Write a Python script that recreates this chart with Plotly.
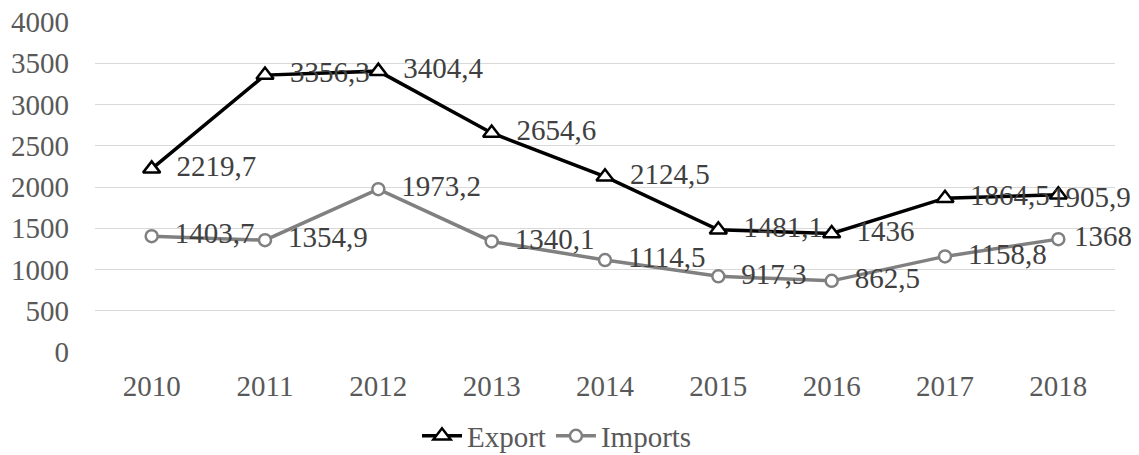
import plotly.graph_objects as go

years = ["2010", "2011", "2012", "2013", "2014", "2015", "2016", "2017", "2018"]
export_vals = [2219.7, 3356.3, 3404.4, 2654.6, 2124.5, 1481.1, 1436, 1864.5, 1905.9]
import_vals = [1403.7, 1354.9, 1973.2, 1340.1, 1114.5, 917.3, 862.5, 1158.8, 1368]
export_labels = ["2219,7", "3356,3", "3404,4", "2654,6", "2124,5", "1481,1", "1436", "1864,5", "1905,9"]
import_labels = ["1403,7", "1354,9", "1973,2", "1340,1", "1114,5", "917,3", "862,5", "1158,8", "1368"]

FONT = "Liberation Serif"
TXT = "#404040"
TICK = "#595959"
FS = 29
PAD = "\u00a0\u00a0"
n = len(years)

fig = go.Figure()
# last export label is placed separately (pulled left to fit, as in the original)
fig.add_trace(go.Scatter(
    x=years, y=export_vals, name="Export", mode="lines+markers+text",
    text=export_labels[:-1] + [""], texttemplate=PAD + "%{text}",
    textposition="middle right", cliponaxis=False,
    textfont=dict(family=FONT, size=FS, color=TXT),
    line=dict(color="black", width=3.5),
    marker=dict(symbol="triangle-up", size=15, color="white",
                line=dict(color="black", width=2.5)),
))
fig.add_trace(go.Scatter(
    x=years, y=import_vals, name="Imports", mode="lines+markers+text",
    text=import_labels, texttemplate=[PAD + "%{text}"] * (n - 1) + ["\u00a0%{text}"],
    textposition="middle right", cliponaxis=False,
    textfont=dict(family=FONT, size=FS, color=TXT),
    line=dict(color="#808080", width=3.5),
    marker=dict(symbol="circle", size=12, color="white",
                line=dict(color="#808080", width=2.5)),
))
fig.add_annotation(
    x=n - 1, y=export_vals[-1], xref="x", yref="y",
    text=export_labels[-1], showarrow=False,
    xanchor="right", yanchor="middle", xshift=75, yshift=-2,
    font=dict(family=FONT, size=FS, color=TXT),
)

W, H = 1131, 447
fig.update_layout(
    width=W, height=H,
    margin=dict(l=87, r=24, t=14, b=103, autoexpand=False),
    paper_bgcolor="white", plot_bgcolor="white",
    font=dict(family=FONT, size=FS, color=TICK),
    showlegend=True,
    legend=dict(orientation="h", x=549 / W, xanchor="center", xref="container",
                y=(H - 428) / H, yanchor="middle", yref="container",
                font=dict(family=FONT, size=FS, color=TICK),
                itemwidth=40, traceorder="normal"),
)
fig.update_xaxes(type="category", range=[-0.5, 8.5], showgrid=False, showline=False,
                 ticks="", ticklabelstandoff=14, ticklabeloverflow="allow",
                 tickfont=dict(family=FONT, size=FS, color=TICK))
fig.update_yaxes(range=[0, 4000], dtick=500, showgrid=True, gridcolor="#d9d9d9",
                 gridwidth=1, zeroline=False, showline=False, ticks="",
                 ticklabelstandoff=25, ticklabeloverflow="allow",
                 tickfont=dict(family=FONT, size=FS, color=TICK))

fig.write_html("out.html")
